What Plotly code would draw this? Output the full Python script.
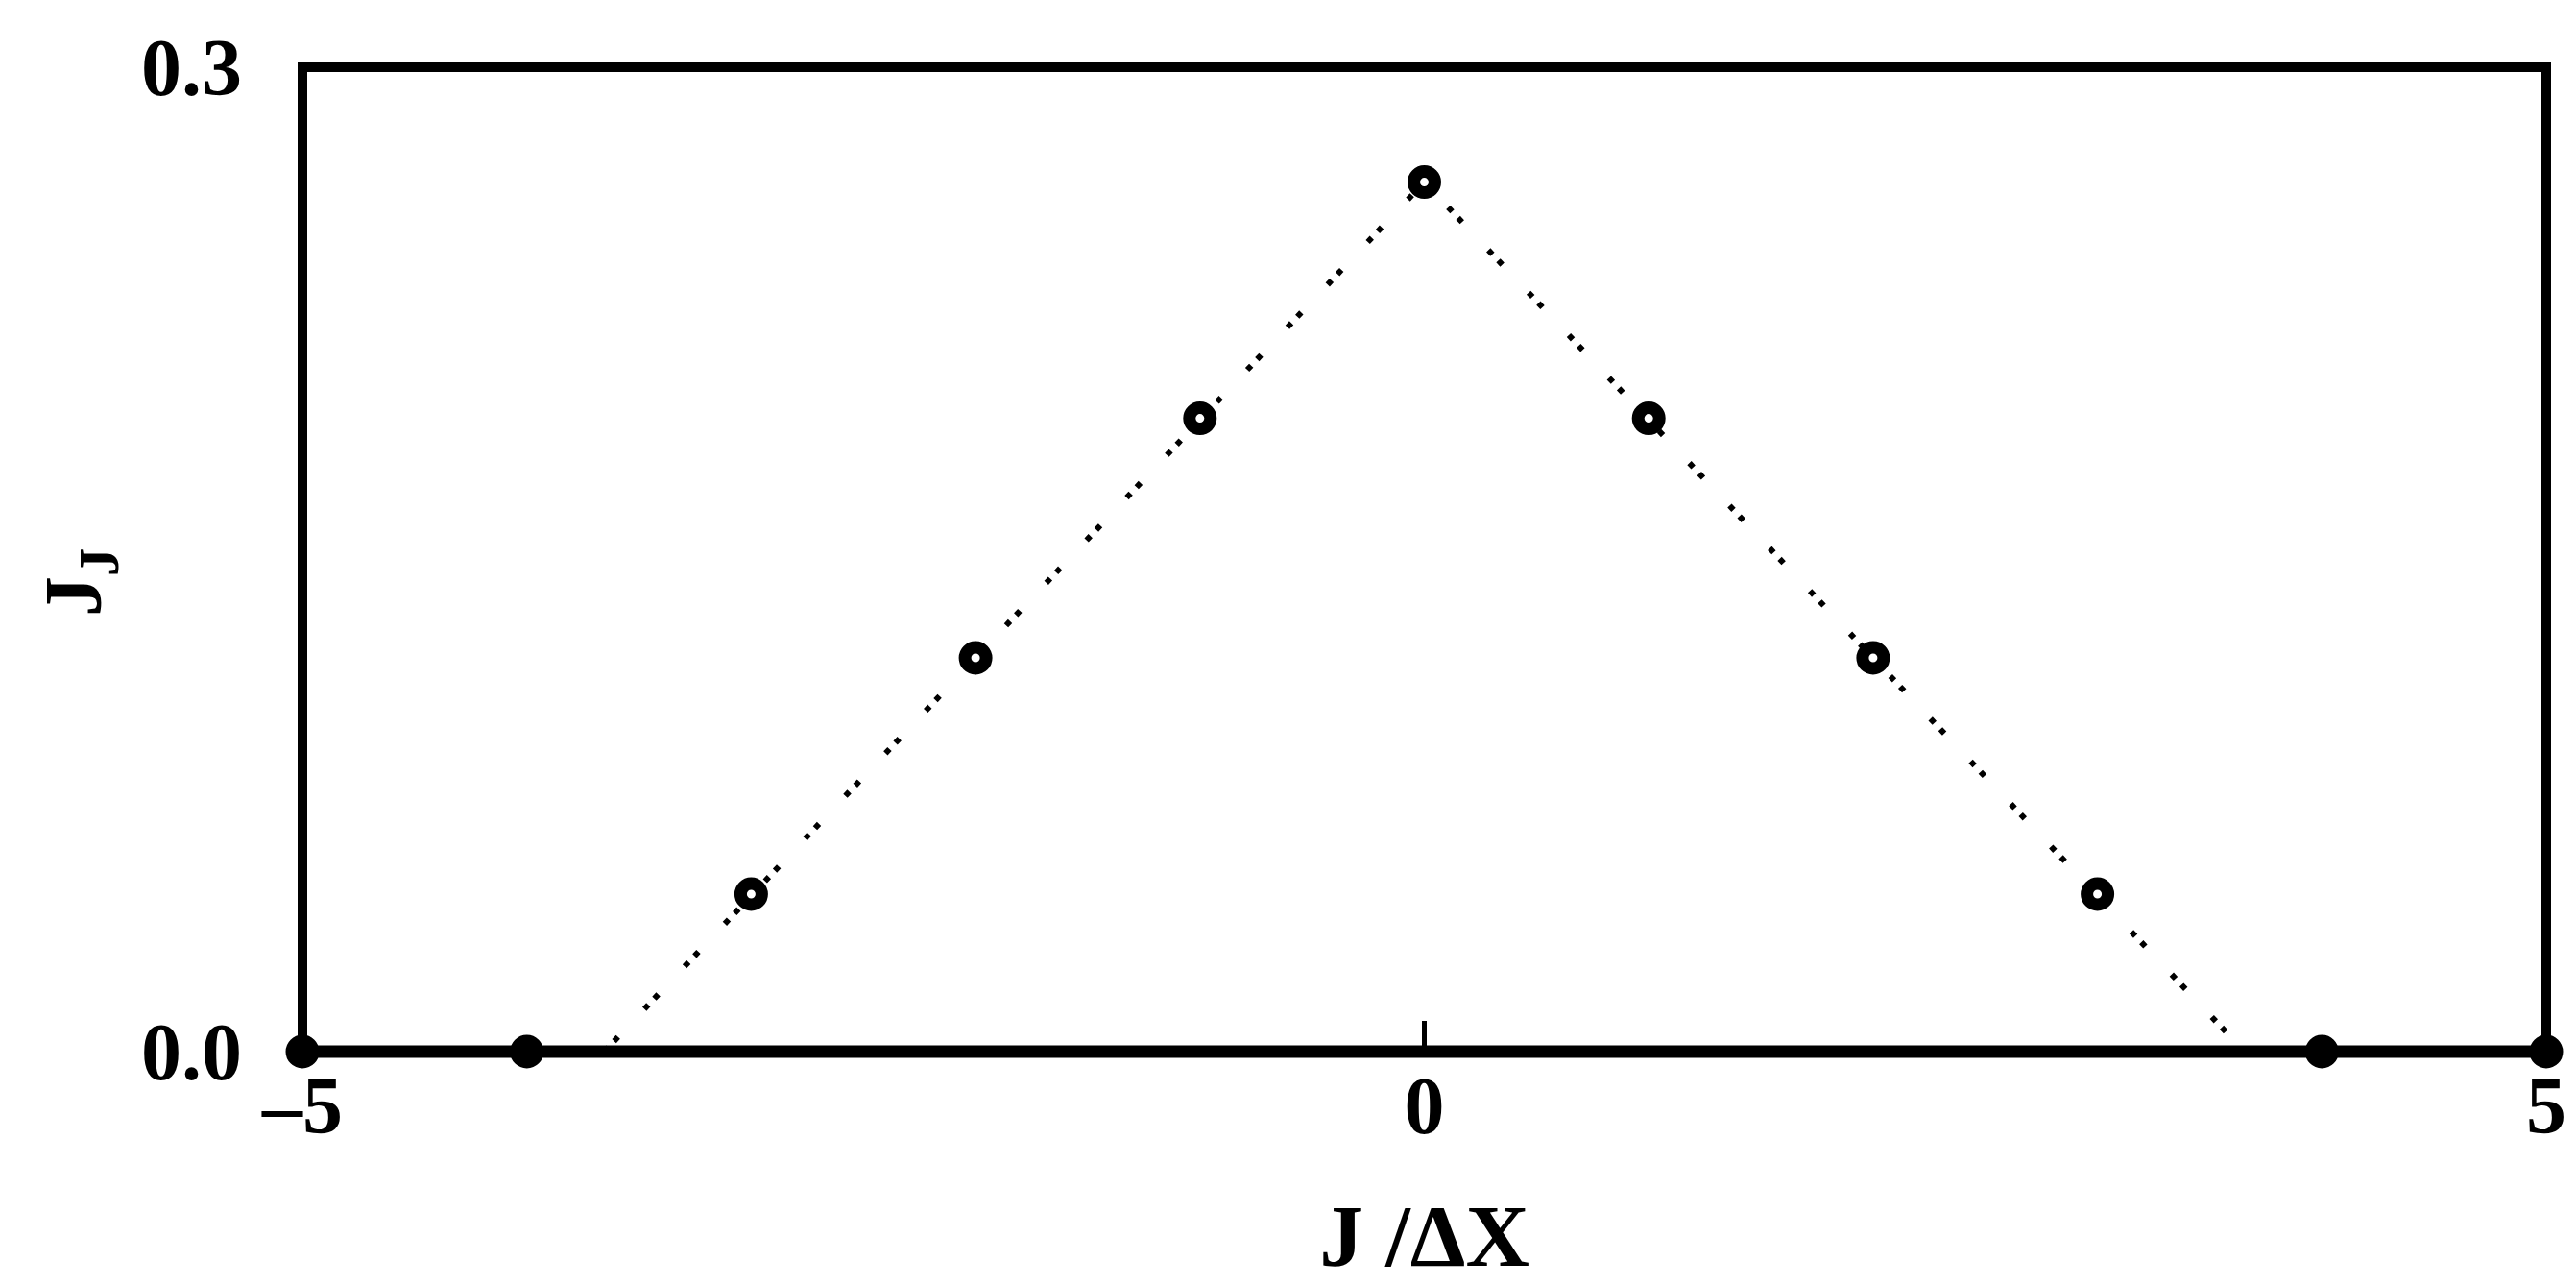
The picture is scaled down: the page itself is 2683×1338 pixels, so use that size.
import plotly.graph_objects as go

# Sampled current J_j at grid nodes j (in units of ΔX)
node_j = [-5, -4, -3, -2, -1, 0, 1, 2, 3, 4, 5]
current_j = [0.0, 0.0, 0.048, 0.12, 0.193, 0.265, 0.193, 0.12, 0.048, 0.0, 0.0]

# Continuous triangular shape through the samples
tent_x = [-3.655, 0.0, 3.655]
tent_y = [0.0, 0.265, 0.0]

# Axis ticks
x_ticks = [-5, 0, 5]
x_tick_text = ["–5", "0", "5"]
y_ticks = [0.0, 0.3]
y_tick_text = ["0.0", "0.3"]

FONT = "Liberation Serif"
INK = "black"
L, R, T, B = 315, 10, 70, 236
W, H = 2683, 1338

fig = go.Figure()

fig.add_trace(go.Scatter(
    x=tent_x, y=tent_y, mode="lines",
    line=dict(color=INK, width=6, dash="6px,9px,6px,40px"),
    hoverinfo="skip", showlegend=False, cliponaxis=False,
))

fig.add_trace(go.Scatter(
    x=node_j, y=current_j, mode="markers",
    marker=dict(symbol="circle", size=22, color="white",
                line=dict(color=INK, width=13)),
    showlegend=False, cliponaxis=False,
))

# Heavy frame around the plotting area, bottom edge a little heavier
fig.add_shape(type="rect", xref="x domain", yref="y domain",
              x0=0, x1=1, y0=0, y1=1,
              line=dict(color=INK, width=10), layer="above")
fig.add_shape(type="line", xref="x domain", yref="y domain",
              x0=0, x1=1, y0=0, y1=0,
              line=dict(color=INK, width=13), layer="above")

# Vertical axis label J_J
fig.add_annotation(
    text="J<sub>J</sub>", textangle=-90, showarrow=False,
    xref="paper", yref="paper",
    x=(137 - L) / (W - L - R), y=(H - B - 610) / (H - T - B),
    xanchor="right", yanchor="middle",
    font=dict(family=FONT, size=84, weight="bold", color=INK),
)

fig.update_layout(
    width=W, height=H,
    margin=dict(l=L, r=R, t=T, b=B),
    paper_bgcolor="white", plot_bgcolor="white",
    font=dict(family=FONT, color=INK),
    xaxis=dict(
        range=[-5, 5], showgrid=False, zeroline=False, showline=False,
        tickmode="array", tickvals=x_ticks, ticktext=x_tick_text,
        ticks="inside", ticklen=32, tickwidth=5, tickcolor=INK,
        tickfont=dict(family=FONT, size=84, weight="bold"),
        ticklabelstandoff=0, ticklabeloverflow="allow",
        title=dict(text="J /ΔX", standoff=66,
                   font=dict(family=FONT, size=92, weight="bold")),
    ),
    yaxis=dict(
        range=[0, 0.3], showgrid=False, zeroline=False, showline=False,
        tickmode="array", tickvals=y_ticks, ticktext=y_tick_text,
        ticks="",
        tickfont=dict(family=FONT, size=84, weight="bold"),
        ticklabelstandoff=62, ticklabeloverflow="allow",
    ),
)

fig.write_html("out.html")
